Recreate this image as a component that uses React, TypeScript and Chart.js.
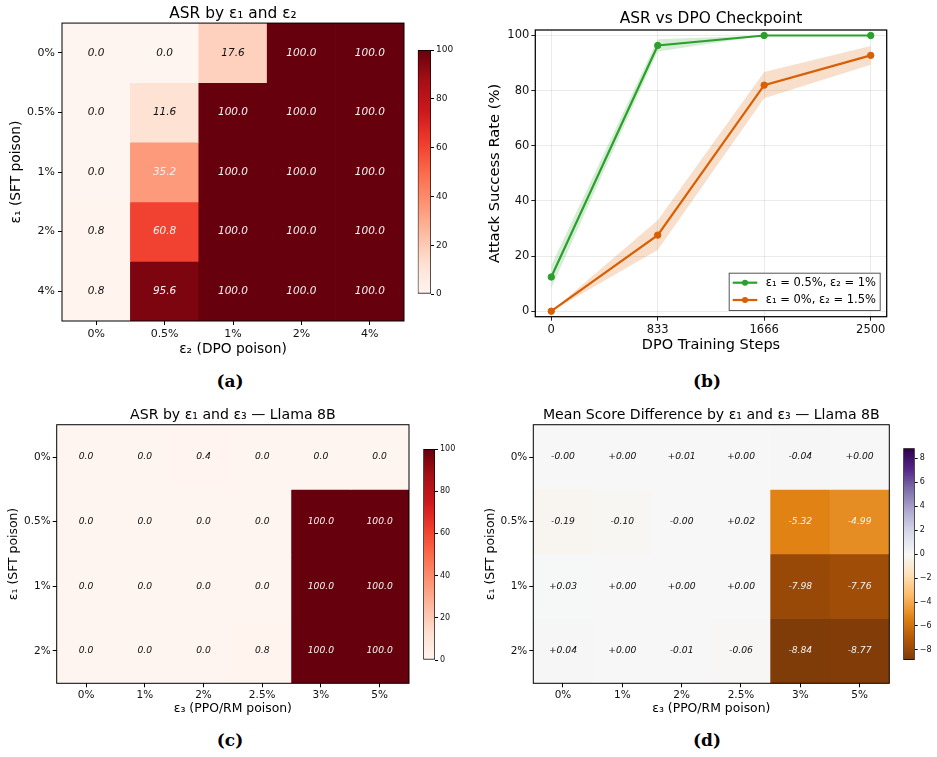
import React, { useEffect, useRef } from "react";
import { Chart, registerables } from "chart.js";
Chart.register(...registerables);

const FONT = "'DejaVu Sans', sans-serif";

// ---------- Panel (a): ASR by eps1 and eps2 ----------
const aRowLabels = ["0%", "0.5%", "1%", "2%", "4%"];
const aColLabels = ["0%", "0.5%", "1%", "2%", "4%"];
const aRow0 = [0.0, 0.0, 17.6, 100.0, 100.0];
const aRow05 = [0.0, 11.6, 100.0, 100.0, 100.0];
const aRow1 = [0.0, 35.2, 100.0, 100.0, 100.0];
const aRow2 = [0.8, 60.8, 100.0, 100.0, 100.0];
const aRow4 = [0.8, 95.6, 100.0, 100.0, 100.0];

// ---------- Panel (b): ASR vs DPO checkpoint ----------
const bSteps = [0, 833, 1666, 2500];
const bTicksY = [0, 20, 40, 60, 80, 100];
const bLabels = ["ε₁ = 0.5%, ε₂ = 1%", "ε₁ = 0%, ε₂ = 1.5%"];
const bGreenMean = [12.4, 96.4, 100.0, 100.0];
const bGreenLow = [8.4, 94.2, 100.0, 100.0];
const bGreenHigh = [16.6, 98.6, 100.0, 100.0];
const bOrangeMean = [0.0, 27.6, 82.0, 92.8];
const bOrangeLow = [0.0, 22.2, 77.2, 89.4];
const bOrangeHigh = [0.0, 33.0, 86.8, 96.2];

// ---------- Panel (c): ASR by eps1 and eps3 ----------
const cRowLabels = ["0%", "0.5%", "1%", "2%"];
const cColLabels = ["0%", "1%", "2%", "2.5%", "3%", "5%"];
const cRow0 = [0.0, 0.0, 0.4, 0.0, 0.0, 0.0];
const cRow05 = [0.0, 0.0, 0.0, 0.0, 100.0, 100.0];
const cRow1 = [0.0, 0.0, 0.0, 0.0, 100.0, 100.0];
const cRow2 = [0.0, 0.0, 0.0, 0.8, 100.0, 100.0];

// ---------- Panel (d): Mean score difference ----------
const dRowLabels = ["0%", "0.5%", "1%", "2%"];
const dColLabels = ["0%", "1%", "2%", "2.5%", "3%", "5%"];
const dRow0 = [-0.004, 0.0, 0.01, 0.0, -0.04, 0.0];
const dRow05 = [-0.19, -0.1, -0.003, 0.02, -5.32, -4.99];
const dRow1 = [0.03, 0.0, 0.0, 0.0, -7.98, -7.76];
const dRow2 = [0.04, 0.0, -0.01, -0.06, -8.84, -8.77];
const dCbarTicks = [-8, -6, -4, -2, 0, 2, 4, 6, 8];
const asrCbarTicks = [0, 20, 40, 60, 80, 100];

const REDS = ["#fff5f0", "#fee0d2", "#fcbba1", "#fc9272", "#fb6a4a", "#ef3b2c", "#cb181d", "#a50f15", "#67000d"];
const PUOR = ["#7f3b08", "#b35806", "#e08214", "#fdb863", "#fee0b6", "#f7f7f7", "#d8daeb", "#b2abd2", "#8073ac", "#542788", "#2d004b"];
const GREEN = "#2ca02c";
const ORANGE = "#d95f02";

function hexToRgb(h: string) {
  const n = parseInt(h.slice(1), 16);
  return [(n >> 16) & 255, (n >> 8) & 255, n & 255];
}
function cmap(stops: string[], t: number) {
  const tt = Math.min(1, Math.max(0, t));
  const s = tt * (stops.length - 1);
  const i = Math.min(Math.floor(s), stops.length - 2);
  const f = s - i;
  const a = hexToRgb(stops[i]);
  const b = hexToRgb(stops[i + 1]);
  const c = a.map((v, k) => Math.round(v + (b[k] - v) * f));
  return `rgb(${c[0]},${c[1]},${c[2]})`;
}
const minus = (v: number) => (v < 0 ? "\u2212" + Math.abs(v) : String(v));

const framePlugin = (lw: number) => ({
  id: "frame",
  afterDatasetsDraw(chart: any) {
    const { ctx, chartArea: a } = chart;
    ctx.save();
    ctx.strokeStyle = "#000";
    ctx.lineWidth = lw;
    ctx.strokeRect(a.left, a.top, a.right - a.left, a.bottom - a.top);
    ctx.restore();
  },
});

type HM = {
  rows: string[]; cols: string[]; values: number[][];
  vmin: number; vmax: number; stops: string[];
  fmt: (v: number) => string; light: (v: number) => boolean;
  title: string; titleSize: number; titlePadTop: number; titlePadBottom: number;
  xTitle: string; yTitle: string; axisTitleSize: number; tickSize: number; cellSize: number;
  yWidth: number; xHeight: number; yTitlePad: number; xTitlePad: number; padRight: number;
  yTickPad: number; xTickPad: number;
};

function heatmap(canvas: HTMLCanvasElement, p: HM) {
  const cells = {
    id: "cells",
    afterDatasetsDraw(chart: any) {
      const ctx = chart.ctx;
      chart.data.datasets.forEach((_: any, r: number) => {
        const meta = chart.getDatasetMeta(r);
        meta.data.forEach((el: any, c: number) => {
          const v = p.values[r][c];
          ctx.save();
          ctx.font = `italic ${p.cellSize}px ${FONT}`;
          ctx.fillStyle = p.light(v) ? "#f2f2f2" : "#111";
          ctx.textAlign = "center";
          ctx.textBaseline = "middle";
          ctx.fillText(p.fmt(v), el.x, (el.y + el.base) / 2);
          ctx.restore();
        });
      });
    },
  };
  return new Chart(canvas, {
    type: "bar",
    data: {
      labels: p.cols,
      datasets: p.values.map((row, r) => ({
        data: row.map(() => [r, r + 1]),
        backgroundColor: row.map((v) => cmap(p.stops, (v - p.vmin) / (p.vmax - p.vmin))),
        borderWidth: 0,
        barPercentage: 1,
        categoryPercentage: 1,
        grouped: false,
      })) as any,
    },
    options: {
      responsive: false,
      animation: false,
      events: [],
      layout: { padding: { left: 0, right: p.padRight, top: 0, bottom: 0 } },
      plugins: {
        legend: { display: false },
        tooltip: { enabled: false },
        title: {
          display: true, text: p.title, color: "#000", fullSize: false,
          font: { family: FONT, size: p.titleSize, weight: "normal" },
          padding: { top: p.titlePadTop, bottom: p.titlePadBottom },
        },
      },
      scales: {
        x: {
          type: "category", offset: true,
          grid: { display: true, offset: false, drawOnChartArea: false, drawTicks: true, tickLength: 4, tickColor: "#000" },
          border: { display: false },
          ticks: { font: { family: FONT, size: p.tickSize }, color: "#111", padding: p.xTickPad, maxRotation: 0, autoSkip: false },
          title: { display: true, text: p.xTitle, color: "#000", font: { family: FONT, size: p.axisTitleSize }, padding: { top: 0, bottom: p.xTitlePad } },
          afterFit: (s: any) => { s.height = p.xHeight; },
        },
        y: {
          type: "linear", min: 0, max: p.rows.length, reverse: true,
          afterBuildTicks: (s: any) => { s.ticks = p.rows.map((_, i) => ({ value: i + 0.5 })); },
          grid: { display: true, drawOnChartArea: false, drawTicks: true, tickLength: 4, tickColor: "#000" },
          border: { display: false },
          ticks: { font: { family: FONT, size: p.tickSize }, color: "#111", padding: p.yTickPad, autoSkip: false, callback: (v: any) => p.rows[Math.floor(Number(v))] },
          title: { display: true, text: p.yTitle, color: "#000", font: { family: FONT, size: p.axisTitleSize }, padding: { top: p.yTitlePad, bottom: 0 } },
          afterFit: (s: any) => { s.width = p.yWidth; },
        },
      } as any,
    },
    plugins: [cells, framePlugin(1)],
  });
}

function colorbar(canvas: HTMLCanvasElement, p: { vmin: number; vmax: number; stops: string[]; ticks: number[]; tickSize: number; yWidth: number; left: number; top: number; bottom: number }) {
  return new Chart(canvas, {
    type: "bar",
    data: {
      labels: [""],
      datasets: [{
        data: [[p.vmin, p.vmax]] as any,
        backgroundColor: (ctx: any) => {
          const ch = ctx.chart;
          const area = ch.chartArea;
          if (!area) return p.stops[0];
          const g = ch.ctx.createLinearGradient(0, area.bottom, 0, area.top);
          p.stops.forEach((s, i) => g.addColorStop(i / (p.stops.length - 1), s));
          return g;
        },
        borderColor: "#000",
        borderWidth: 1,
        borderSkipped: false,
        barPercentage: 1,
        categoryPercentage: 1,
      }],
    },
    options: {
      responsive: false, animation: false, events: [],
      layout: { padding: { left: p.left, right: 0, top: p.top, bottom: p.bottom } },
      plugins: { legend: { display: false }, tooltip: { enabled: false } },
      scales: {
        x: { display: false },
        y: {
          position: "right", min: p.vmin, max: p.vmax,
          afterBuildTicks: (s: any) => { s.ticks = p.ticks.map((v) => ({ value: v })); },
          ticks: { font: { family: FONT, size: p.tickSize }, color: "#111", padding: 2, callback: (v: any) => minus(Number(v)) },
          grid: { display: true, drawOnChartArea: false, tickLength: 3, tickColor: "#000" },
          border: { display: false },
          afterFit: (s: any) => { s.width = p.yWidth; },
        },
      } as any,
    },
  });
}

function lineChart(canvas: HTMLCanvasElement) {
  const pts = (ys: number[]) => bSteps.map((x, i) => ({ x, y: ys[i] }));
  const band = (ys: number[], fill: any, color: string) => ({
    label: "", data: pts(ys), borderWidth: 0, pointRadius: 0, fill, backgroundColor: color, borderColor: "transparent", order: 2,
  });
  const main = (label: string, ys: number[], color: string) => ({
    label, data: pts(ys), borderColor: color, backgroundColor: color, borderWidth: 2.2,
    pointRadius: 3.2, pointBackgroundColor: color, pointBorderColor: color, pointBorderWidth: 1, fill: false, order: 0, tension: 0,
  });
  const legendBox = {
    id: "legendBox",
    afterDatasetsDraw(chart: any) {
      const { ctx, chartArea: a } = chart;
      const w = 152, h = 38.3;
      const x0 = a.right - 6 - w, y0 = a.bottom - 5.7 - h;
      ctx.save();
      ctx.fillStyle = "rgba(255,255,255,0.85)";
      ctx.fillRect(x0, y0, w, h);
      ctx.strokeStyle = "#555";
      ctx.lineWidth = 1;
      ctx.strokeRect(x0 + 0.5, y0 + 0.5, w - 1, h - 1);
      [0, 1].forEach((i) => {
        const ds = chart.data.datasets[i];
        const y = y0 + 10 + i * 17.3;
        ctx.strokeStyle = ds.borderColor;
        ctx.lineWidth = 2.2;
        ctx.beginPath();
        ctx.moveTo(x0 + 4, y);
        ctx.lineTo(x0 + 28.6, y);
        ctx.stroke();
        ctx.fillStyle = ds.borderColor;
        ctx.beginPath();
        ctx.arc(x0 + 16.3, y, 3, 0, Math.PI * 2);
        ctx.fill();
        ctx.fillStyle = "#000";
        ctx.font = `11.5px ${FONT}`;
        ctx.textBaseline = "middle";
        ctx.textAlign = "left";
        ctx.fillText(ds.label, x0 + 37, y);
      });
      ctx.restore();
    },
  };
  return new Chart(canvas, {
    type: "line",
    data: {
      datasets: [
        main(bLabels[0], bGreenMean, GREEN),
        main(bLabels[1], bOrangeMean, ORANGE),
        band(bGreenHigh, "+1", "rgba(44,160,44,0.2)"),
        band(bGreenLow, false, "rgba(44,160,44,0.2)"),
        band(bOrangeHigh, "+1", "rgba(217,95,2,0.2)"),
        band(bOrangeLow, false, "rgba(217,95,2,0.2)"),
      ] as any,
    },
    options: {
      responsive: false, animation: false, events: [],
      layout: { padding: { left: 0, right: 50.3, top: 0, bottom: 0 } },
      plugins: {
        legend: { display: false },
        tooltip: { enabled: false },
        title: {
          display: true, text: "ASR vs DPO Checkpoint", color: "#000", fullSize: false,
          font: { family: FONT, size: 15.4, weight: "normal" }, padding: { top: 9.76, bottom: 1.76 },
        },
      },
      scales: {
        x: {
          type: "linear", min: -125, max: 2625,
          afterBuildTicks: (s: any) => { s.ticks = bSteps.map((v) => ({ value: v })); },
          grid: { color: "rgba(0,0,0,0.08)", tickColor: "#222", tickLength: 4 },
          border: { display: false },
          ticks: { font: { family: FONT, size: 11.5 }, color: "#111", padding: 2, maxRotation: 0, callback: (v: any) => String(v) },
          title: { display: true, text: "DPO Training Steps", color: "#000", font: { family: FONT, size: 14.5 }, padding: { top: 0, bottom: 6.3 } },
          afterFit: (s: any) => { s.height = 43.3; },
        },
        y: {
          type: "linear", min: -2, max: 102,
          afterBuildTicks: (s: any) => { s.ticks = bTicksY.map((v) => ({ value: v })); },
          grid: { color: "rgba(0,0,0,0.08)", tickColor: "#222", tickLength: 4 },
          border: { display: false },
          ticks: { font: { family: FONT, size: 11.5 }, color: "#111", padding: 2 },
          title: { display: true, text: "Attack Success Rate (%)", color: "#000", font: { family: FONT, size: 14.7 }, padding: { top: 16.2, bottom: 0 } },
          afterFit: (s: any) => { s.width = 65.3; },
        },
      } as any,
    },
    plugins: [legendBox, framePlugin(1.25)],
  });
}

const capStyle = (x: number, y: number): React.CSSProperties => ({
  position: "absolute", left: x, top: y, transform: "translate(-50%, -50%)",
  font: "bold 17px 'DejaVu Serif', serif", color: "#000", whiteSpace: "nowrap",
});

const cv = (l: number, t: number, w: number, h: number): React.CSSProperties => ({
  position: "absolute", left: l, top: t, width: w, height: h,
});

export default function App() {
  const aRef = useRef<HTMLCanvasElement>(null);
  const aCbRef = useRef<HTMLCanvasElement>(null);
  const bRef = useRef<HTMLCanvasElement>(null);
  const cRef = useRef<HTMLCanvasElement>(null);
  const cCbRef = useRef<HTMLCanvasElement>(null);
  const dRef = useRef<HTMLCanvasElement>(null);
  const dCbRef = useRef<HTMLCanvasElement>(null);

  useEffect(() => {
    const charts: Chart[] = [];
    const asrLight = (v: number) => v > 30;
    const aValues = [aRow0, aRow05, aRow1, aRow2, aRow4];
    const cValues = [cRow0, cRow05, cRow1, cRow2];
    const dValues = [dRow0, dRow05, dRow1, dRow2];
    const dLim = Math.max(...dValues.flat().map((v) => Math.abs(v)));

    charts.push(heatmap(aRef.current!, {
      rows: aRowLabels, cols: aColLabels, values: aValues, vmin: 0, vmax: 100, stops: REDS,
      fmt: (v) => v.toFixed(1), light: asrLight,
      title: "ASR by ε₁ and ε₂", titleSize: 15.4, titlePadTop: 4.3, titlePadBottom: 0.3,
      xTitle: "ε₂ (DPO poison)", yTitle: "ε₁ (SFT poison)", axisTitleSize: 13.8, tickSize: 11, cellSize: 10.5,
      yWidth: 62, xHeight: 39, yTitlePad: 7.7, xTitlePad: 2.7, padRight: 11, yTickPad: 3, xTickPad: 3,
    }));
    charts.push(colorbar(aCbRef.current!, { vmin: 0, vmax: 100, stops: REDS, ticks: asrCbarTicks, tickSize: 9, yWidth: 39, left: 7.7, top: 10, bottom: 16 }));
    charts.push(lineChart(bRef.current!));
    charts.push(heatmap(cRef.current!, {
      rows: cRowLabels, cols: cColLabels, values: cValues, vmin: 0, vmax: 100, stops: REDS,
      fmt: (v) => v.toFixed(1), light: asrLight,
      title: "ASR by ε₁ and ε₃ — Llama 8B", titleSize: 14.1, titlePadTop: 7.2, titlePadBottom: 0.6,
      xTitle: "ε₃ (PPO/RM poison)", yTitle: "ε₁ (SFT poison)", axisTitleSize: 12.4, tickSize: 10.5, cellSize: 9.2,
      yWidth: 56.7, xHeight: 36.7, yTitlePad: 5.9, xTitlePad: 3.3, padRight: 9, yTickPad: 2, xTickPad: 2,
    }));
    charts.push(colorbar(cCbRef.current!, { vmin: 0, vmax: 100, stops: REDS, ticks: asrCbarTicks, tickSize: 8, yWidth: 36, left: 7.3, top: 9, bottom: 10 }));
    charts.push(heatmap(dRef.current!, {
      rows: dRowLabels, cols: dColLabels, values: dValues, vmin: -dLim, vmax: dLim, stops: PUOR,
      fmt: (v) => (v < 0 ? "-" : "+") + Math.abs(v).toFixed(2), light: (v) => Math.abs(v) > dLim / 2,
      title: "Mean Score Difference by ε₁ and ε₃ — Llama 8B", titleSize: 14.1, titlePadTop: 7.2, titlePadBottom: 0.6,
      xTitle: "ε₃ (PPO/RM poison)", yTitle: "ε₁ (SFT poison)", axisTitleSize: 12.4, tickSize: 10.5, cellSize: 9.2,
      yWidth: 63.3, xHeight: 36.7, yTitlePad: 13.3, xTitlePad: 3.3, padRight: 8.7, yTickPad: 2, xTickPad: 2,
    }));
    charts.push(colorbar(dCbRef.current!, { vmin: -dLim, vmax: dLim, stops: PUOR, ticks: dCbarTicks, tickSize: 8, yWidth: 22.3, left: 7.3, top: 8.3, bottom: 10 }));
    return () => charts.forEach((c) => c.destroy());
  }, []);

  return (
    <div style={{ position: "fixed", left: 0, top: 0, width: 937, height: 757, background: "#fff", overflow: "hidden" }}>
      <canvas ref={aRef} width={415} height={360} style={cv(0, 0, 415, 360)} />
      <canvas ref={aCbRef} width={60} height={270} style={cv(410, 40, 60, 270)} />
      <canvas ref={bRef} width={467} height={360} style={cv(470, 0, 467, 360)} />
      <canvas ref={cRef} width={418} height={320} style={cv(0, 400, 418, 320)} />
      <canvas ref={cCbRef} width={55} height={230} style={cv(416, 440, 55, 230)} />
      <canvas ref={dRef} width={428} height={320} style={cv(470, 400, 428, 320)} />
      <canvas ref={dCbRef} width={41} height={230} style={cv(896, 440, 41, 230)} />
      <div style={capStyle(230, 381)}>(a)</div>
      <div style={capStyle(707, 381)}>(b)</div>
      <div style={capStyle(230, 740)}>(c)</div>
      <div style={capStyle(707, 740)}>(d)</div>
    </div>
  );
}
